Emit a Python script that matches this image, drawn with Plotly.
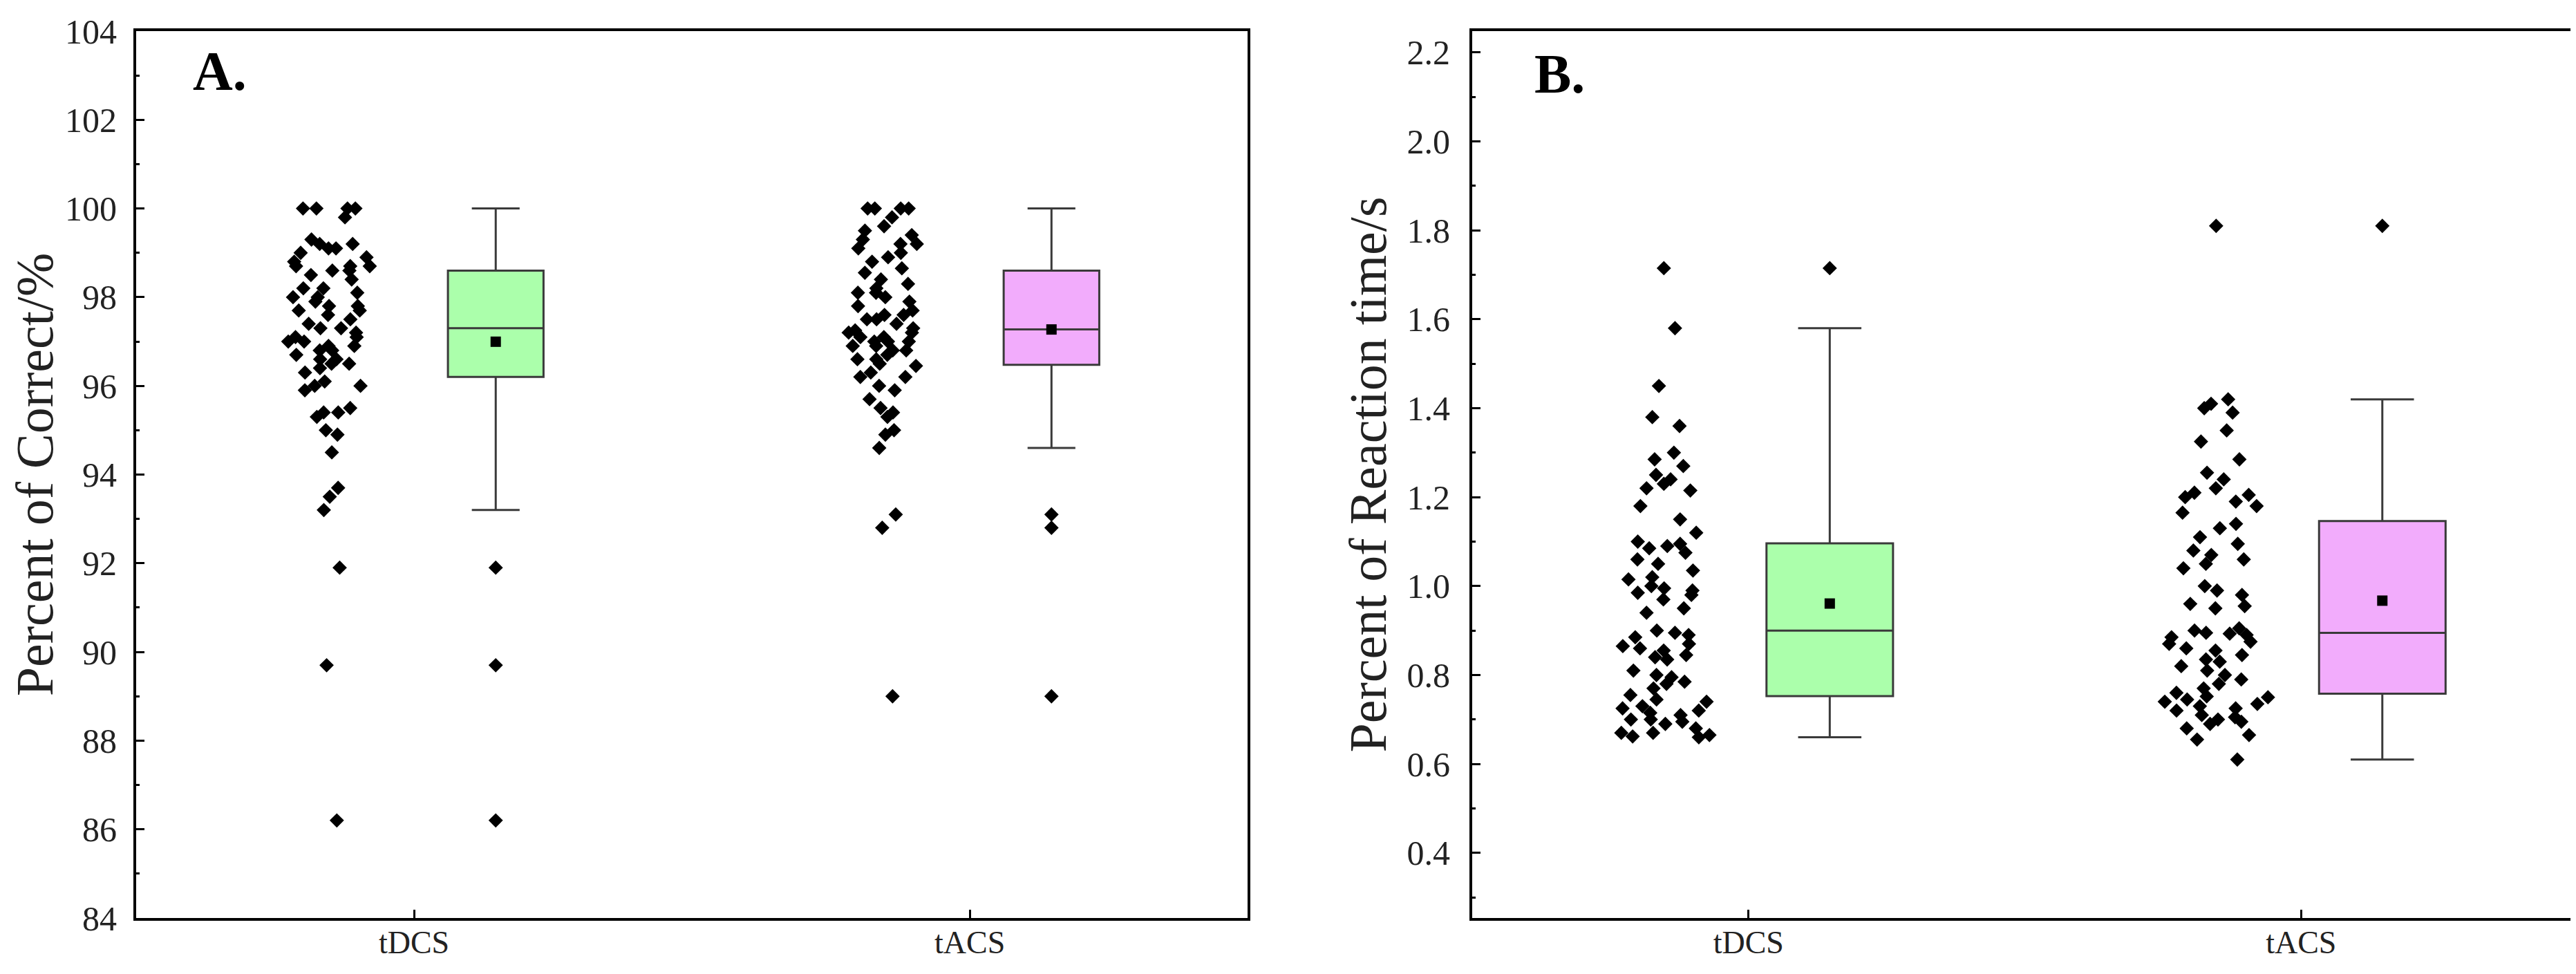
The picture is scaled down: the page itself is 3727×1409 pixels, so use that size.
import numpy as np
import plotly.graph_objects as go

# ---------------- data ----------------
categories = ["tDCS", "tACS"]

correct_tdcs = [
    86.2, 89.7, 91.9, 93.2, 93.5, 93.7, 94.5, 94.9, 95.0, 95.3, 95.4, 95.4, 95.5, 95.9, 96.0, 96.0, 96.1,
    96.3, 96.4, 96.5, 96.5, 96.6, 96.6, 96.7, 96.8, 96.8, 96.9, 96.9, 97.0, 97.0, 97.1, 97.1, 97.2, 97.3,
    97.3, 97.4, 97.5, 97.6, 97.7, 97.7, 97.8, 97.8, 97.9, 98.0, 98.0, 98.1, 98.2, 98.2, 98.4, 98.5, 98.6,
    98.6, 98.7, 98.7, 98.7, 98.8, 98.9, 99.0, 99.1, 99.1, 99.2, 99.2, 99.3, 99.8, 100.0, 100.0, 100.0, 100.0,
]
correct_tacs = [
    89.0, 92.8, 93.1, 94.6, 94.9, 95.0, 95.3, 95.4, 95.5, 95.7, 95.9, 96.0, 96.2, 96.2, 96.3, 96.45,
    96.5, 96.6, 96.6, 96.7, 96.8, 96.8, 96.9, 96.9, 97.0, 97.0, 97.0, 97.1, 97.1, 97.2, 97.2, 97.25,
    97.3, 97.4, 97.5, 97.5, 97.6, 97.6, 97.7, 97.8, 97.9, 98.0, 98.1, 98.1, 98.2, 98.3, 98.4, 98.55,
    98.65, 98.8, 98.9, 99.0, 99.1, 99.2, 99.2, 99.3, 99.4, 99.5, 99.6, 99.8, 100.0, 100.0, 100.0, 100.0,
]
rt_tdcs = [
    0.66, 0.662, 0.665, 0.67, 0.67, 0.68, 0.69, 0.695, 0.70, 0.70, 0.71, 0.715, 0.72, 0.725, 0.73, 0.74, 0.745,
    0.755, 0.77, 0.78, 0.785, 0.795, 0.80, 0.81, 0.835, 0.84, 0.845, 0.855, 0.86, 0.865, 0.87, 0.885, 0.89, 0.895,
    0.90, 0.94, 0.95, 0.97, 0.98, 0.985, 0.99, 0.995, 1.00, 1.015, 1.02, 1.035, 1.05, 1.06, 1.075, 1.085, 1.09,
    1.095, 1.10, 1.12, 1.15, 1.18, 1.215, 1.22, 1.23, 1.24, 1.25, 1.27, 1.285, 1.30, 1.36, 1.38, 1.45, 1.58, 1.715,
]
rt_tacs = [
    0.61, 0.655, 0.665, 0.68, 0.69, 0.695, 0.70, 0.705, 0.71, 0.72, 0.725, 0.73, 0.735, 0.74, 0.745, 0.75, 0.752,
    0.76, 0.77, 0.78, 0.79, 0.80, 0.81, 0.82, 0.83, 0.835, 0.845, 0.855, 0.86, 0.87, 0.875, 0.885, 0.89, 0.893,
    0.895, 0.90, 0.905, 0.95, 0.955, 0.96, 0.98, 0.99, 1.00, 1.04, 1.05, 1.06, 1.07, 1.08, 1.095, 1.11, 1.13,
    1.14, 1.165, 1.18, 1.19, 1.20, 1.205, 1.21, 1.22, 1.24, 1.255, 1.285, 1.325, 1.35, 1.39, 1.40, 1.41, 1.42, 1.81,
]

title_a = "Percent of Correct/%"
title_b = "Percent of Reaction time/s"
panel_labels = ["A.", "B."]

# ---------------- styling ----------------
fills = ["#ABFFAB", "#F2ACFC"]
positions = [1, 2]
OFF = 0.147
SERIF = "Liberation Serif"
TICK_FONT = dict(family=SERIF, size=50, color="#222222")
XTICK_FONT = dict(family=SERIF, size=46, color="#222222")
TITLE_FONT = dict(family=SERIF, size=76, color="#222222")

fig = go.Figure()

panels = [
    ("x", "y", [correct_tdcs, correct_tacs], 0.172, 0.17),
    ("x2", "y2", [rt_tdcs, rt_tacs], 0.229, 0.22),
]

for xa, ya, series, boxw, ptsw in panels:
    for pos, data, fill in zip(positions, series, fills):
        # jittered raw points beside the box
        fig.add_trace(go.Box(
            y=data, x0=pos - OFF, width=ptsw, xaxis=xa, yaxis=ya,
            boxpoints="all", jitter=1.0, pointpos=0,
            fillcolor="rgba(0,0,0,0)", line=dict(color="rgba(0,0,0,0)", width=0),
            marker=dict(symbol="diamond", size=16, color="black", line=dict(width=0)),
            showlegend=False, hoverinfo="skip",
        ))
        # the box with outliers
        fig.add_trace(go.Box(
            y=data, x0=pos + OFF, width=boxw, xaxis=xa, yaxis=ya,
            boxpoints="outliers", pointpos=0, whiskerwidth=0.5,
            fillcolor=fill, line=dict(color="#3a3a3a", width=3),
            marker=dict(symbol="diamond", size=16, color="black", line=dict(width=0)),
            showlegend=False, hoverinfo="skip",
        ))
        # mean marker
        fig.add_trace(go.Scatter(
            x=[pos + OFF], y=[float(np.mean(data))], xaxis=xa, yaxis=ya,
            mode="markers", marker=dict(symbol="square", size=15, color="black"),
            showlegend=False, hoverinfo="skip",
        ))

axis_common = dict(
    showline=True, linewidth=4, linecolor="black", mirror=True,
    ticks="inside", ticklen=12, tickwidth=3, tickcolor="black",
    showgrid=False, zeroline=False, automargin=False,
    tickfont=TICK_FONT,
)

xcommon = dict(axis_common, range=[0.5, 2.5], tickvals=positions, ticktext=categories,
               tickfont=XTICK_FONT, ticklabelstandoff=-8)

fig.update_layout(
    template="none",
    width=3727, height=1409,
    margin=dict(l=189, r=6, t=37, b=89),
    paper_bgcolor="white", plot_bgcolor="white",
    showlegend=False,
    boxmode="overlay",
    xaxis=dict(xcommon, domain=[0, 0.4553], anchor="y"),
    xaxis2=dict(xcommon, domain=[0.5473, 1.0], anchor="y2"),
    yaxis=dict(axis_common, range=[84, 104], dtick=2, tick0=84,
               minor=dict(dtick=1, ticks="inside", ticklen=5, tickwidth=3, tickcolor="black"),
               title=dict(text=title_a, font=TITLE_FONT, standoff=6),
               ticklabelstandoff=14, anchor="x"),
    yaxis2=dict(axis_common, range=[0.2536, 2.248], dtick=0.2, tick0=0.4, tickformat=".1f",
                minor=dict(dtick=0.1, ticks="inside", ticklen=5, tickwidth=3, tickcolor="black"),
                title=dict(text=title_b, font=TITLE_FONT, standoff=6),
                ticklabelstandoff=18, anchor="x2"),
)

fig.add_annotation(text="<b>" + panel_labels[0] + "</b>", xref="x domain", yref="y domain",
                   x=0.05, y=0.955, xanchor="left", yanchor="middle", showarrow=False,
                   font=dict(family=SERIF, size=80, color="black"))
fig.add_annotation(text="<b>" + panel_labels[1] + "</b>", xref="x2 domain", yref="y2 domain",
                   x=0.055, y=0.952, xanchor="left", yanchor="middle", showarrow=False,
                   font=dict(family=SERIF, size=80, color="black"))

fig.write_html("out.html")
